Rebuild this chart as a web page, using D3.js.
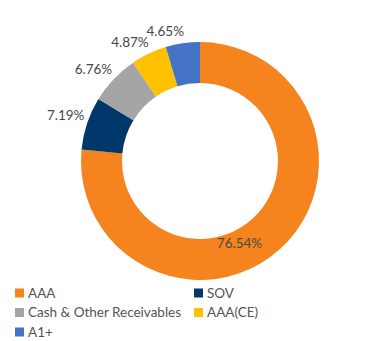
<!DOCTYPE html>
<html><head><meta charset="utf-8">
<script src="https://cdn.jsdelivr.net/npm/d3@7"></script>
<style>body{margin:0;background:#fff;}svg{display:block;font-family:Lato,"Open Sans",sans-serif;}</style>
</head><body>
<svg id="c" width="369" height="341"></svg>
<script>
const categories = ["AAA", "SOV", "Cash & Other Receivables", "AAA(CE)", "A1+"];
const values = [76.54, 7.19, 6.76, 4.87, 4.65];
const labels = ["76.54%", "7.19%", "6.76%", "4.87%", "4.65%"];
const colors = ["#F5841F", "#00386C", "#A5A5A5", "#FFC000", "#4472C4"];

const svg = d3.select("#c");
const cx = 200, cy = 161, rOuter = 119, rInner = 78;
const g = svg.append("g").attr("transform", `translate(${cx},${cy})`);
const pie = d3.pie().sort(null).value(d => d)(values);
const arc = d3.arc().innerRadius(rInner).outerRadius(rOuter);
g.selectAll("path").data(pie).enter().append("path")
  .attr("d", arc).attr("fill", (d, i) => colors[i]);

pie.forEach((d, i) => {
  let a, r, anchor, dy;
  if (i === 0) {
    a = d.startAngle + (d.endAngle - d.startAngle) * 0.56;
    r = 91; anchor = "middle"; dy = 5;
  } else {
    a = (d.startAngle + d.endAngle) / 2;
    r = 124; anchor = "end"; dy = -2;
  }
  const x = Math.sin(a) * r, y = -Math.cos(a) * r;
  g.append("text").attr("x", x + (i === 0 ? 0 : 2)).attr("y", y + dy)
    .attr("text-anchor", anchor).attr("font-size", 13.5).attr("fill", "#484848")
    .text(labels[i]);
});

const leg = svg.append("g");
categories.forEach((c, i) => {
  const col = i % 2, row = Math.floor(i / 2);
  const x = col === 0 ? 15 : 194, y = 293 + row * 19.5;
  leg.append("rect").attr("x", x).attr("y", y - 4.5).attr("width", 9).attr("height", 9).attr("fill", colors[i]);
  leg.append("text").attr("x", x + 13).attr("y", y + 4.5).attr("font-size", 13.5).attr("fill", "#555").text(c);
});
</script>
</body></html>
